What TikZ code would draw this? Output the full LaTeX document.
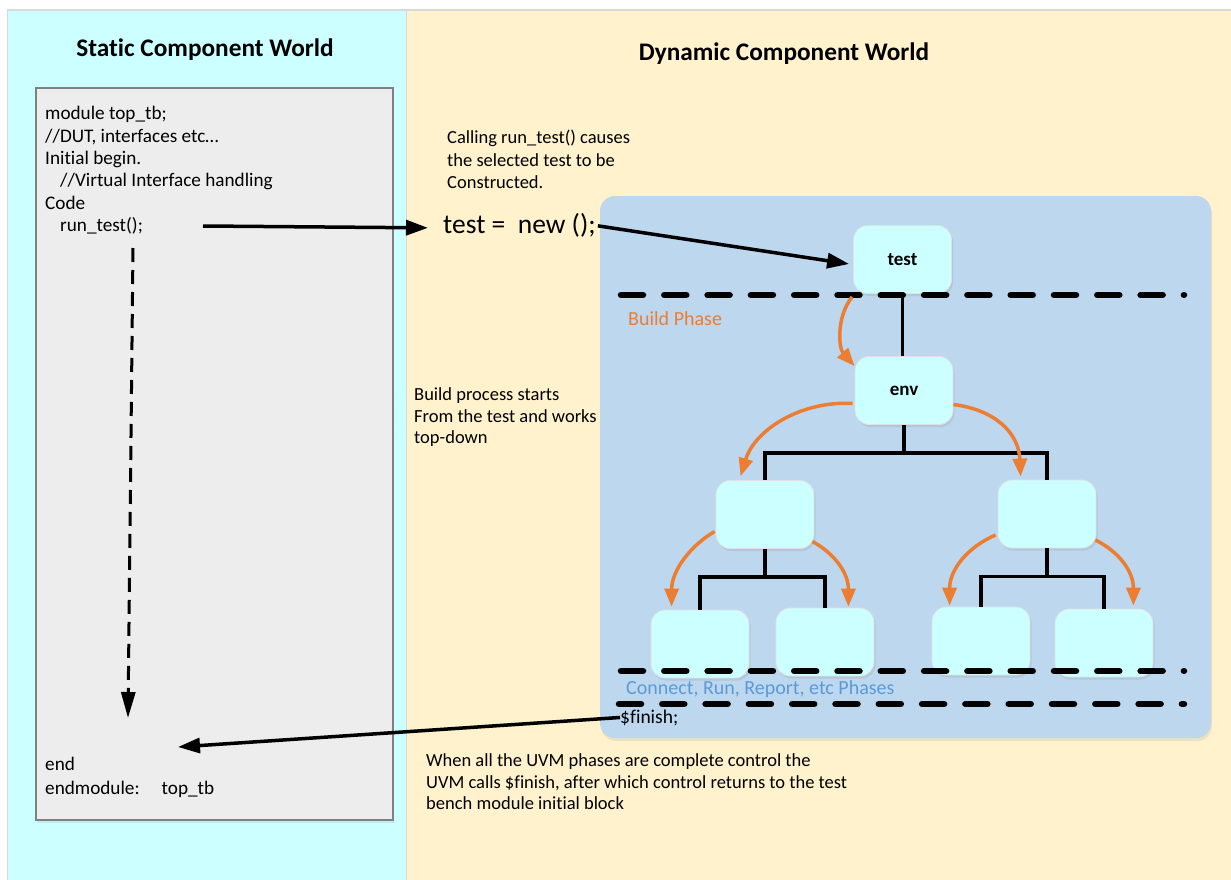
\documentclass[tikz,border=0pt]{standalone}
\usepackage{fontspec}
\setmainfont{Carlito}[Ligatures=NoCommon]
\usetikzlibrary{arrows.meta,calc,shadows}

\definecolor{staticbg}{HTML}{CCFFFF}
\definecolor{dynbg}{HTML}{FFF2CC}
\definecolor{panelline}{HTML}{D9D9D9}
\definecolor{codefill}{HTML}{EDEDED}
\definecolor{codeline}{HTML}{808080}
\definecolor{phasebox}{HTML}{BDD7EE}
\definecolor{compfill}{HTML}{CCFFFF}
\definecolor{buildorange}{HTML}{ED7D31}
\definecolor{phaseblue}{HTML}{5B9BD5}

\begin{document}
\begin{tikzpicture}[x=1pt,y=-1pt,
  title/.style={font=\bfseries\fontsize{25.3}{30}\selectfont, anchor=base, inner sep=0pt},
  body/.style={font=\fontsize{18.5}{22}\selectfont, anchor=base west, inner sep=0pt},
  code/.style={font=\fontsize{19.2}{22}\selectfont, anchor=base west, inner sep=0pt},
  comp/.style={fill=compfill, draw=black!12, line width=0.8pt, rounded corners=14pt,
    minimum width=98pt, minimum height=68pt, inner sep=0pt,
    font=\bfseries\fontsize{19}{22}\selectfont,
    drop shadow={shadow xshift=1.5pt, shadow yshift=-2.5pt, opacity=0.18}},
  callarrow/.style={line width=3.5pt, -{Triangle[length=22pt,width=15pt]}},
  flowarrow/.style={line width=3pt, dash pattern=on 14pt off 8pt, -{Triangle[length=26pt,width=14pt]}},
  tree/.style={line width=3.5pt},
  build/.style={draw=buildorange, line width=3.5pt, -{Triangle[length=18pt,width=14pt]}},
  phaseline/.style={line width=6.5pt, line cap=round, dash pattern=on 22pt off 21.3pt},
  phaselabel/.style={font=\fontsize{20}{24}\selectfont, anchor=base west, inner sep=0pt}]

\useasboundingbox (0,0) rectangle (1231,880);
\fill[white] (0,0) rectangle (1231,880);

% the two worlds
\fill[staticbg] (7,10) rectangle (406,880);
\fill[dynbg] (406,10) rectangle (1231,880);
\draw[panelline, line width=2pt] (7,10) -- (1231,10);
\draw[panelline, line width=1pt] (406,10) -- (406,880);
\draw[panelline, line width=1pt] (7,10) -- (7,880);

\node[title] (stitle) at (205,57) {Static Component World};
\node[title] (dtitle) at (784,61) {Dynamic Component World};

% top-level module code
\node[fill=codefill, draw=codeline, line width=2pt, minimum width=357pt, minimum height=732pt,
  inner sep=0pt, drop shadow={shadow xshift=1pt, shadow yshift=-3pt, opacity=0.15}]
  (codebox) at (214.5,454) {};
\node[code] (c1) at (45,120) {module top\_tb;};
\node[code] (c2) at (45,142.3) {//DUT, interfaces etc…};
\node[code] (c3) at (45,164.6) {Initial begin.};
\node[code] (c4) at (60,186.9) {//Virtual Interface handling};
\node[code] (c5) at (45,209.2) {Code};
\node[code] (c6) at (60,231.5) {run\_test();};
\node[code] (c7) at (45,770) {end};
\node[code] (c8) at (45,794) {endmodule:\hspace{22pt}top\_tb};

% explanatory notes
\node[body] (call1) at (447,143) {Calling run\_test() causes};
\node[body] (call2) at (447,166) {the selected test to be};
\node[body] (call3) at (447,188) {Constructed.};
\node[font=\fontsize{27.5}{32}\selectfont, anchor=base west, inner sep=0pt] (newstmt) at (443,233) {test =\ \ new ();};

\node[body] (bp1) at (414,400) {Build process starts};
\node[body] (bp2) at (414,422) {From the test and works};
\node[body] (bp3) at (414,443) {top-down};

\node[body] (fin1) at (426,766) {When all the UVM phases are complete control the};
\node[body] (fin2) at (426,788) {UVM calls \$finish, after which control returns to the test};
\node[body] (fin3) at (426,809) {bench module initial block};

% component hierarchy
\node[fill=phasebox, rounded corners=15pt, minimum width=611pt, minimum height=542pt, inner sep=0pt,
  drop shadow={shadow xshift=1pt, shadow yshift=-3pt, opacity=0.15}] (dynbox) at (905.5,467) {};

\node[comp] (test) at (902.5,259.5) {test};
\node[comp] (env) at (904,390.5) {env};
\node[comp] (m1) at (765,514.5) {};
\node[comp] (m2) at (1047,514) {};
\node[comp] (l1) at (700,644) {};
\node[comp] (l2) at (825,642) {};
\node[comp] (l3) at (981,641) {};
\node[comp] (l4) at (1104,643) {};

% phase boundaries
\draw[phaseline] (621,295) -- (1184,295);
\draw[phaseline] (621,671) -- (1184,671);
\draw[phaseline] (619,704) -- (1184,704);

\node[phaselabel, text=buildorange] (buildlbl) at (628,325) {Build Phase};
\node[phaselabel, text=phaseblue] (connlbl) at (626,694) {Connect, Run, Report, etc Phases};
\node[font=\fontsize{19.5}{23}\selectfont, anchor=base west, inner sep=0pt] (finish) at (620,723) {\$finish;};

% tree connections
\draw[tree] (test.south) -- (test.south |- env.north);
\draw[tree] (env.south) -- ++(0,28) -| (m1.north);
\draw[tree] (env.south) -- ++(0,28) -| (m2.north);
\draw[tree] (m1.south) -- ++(0,28) -| (l1.north);
\draw[tree] (m1.south) -- ++(0,28) -| (l2.north);
\draw[tree] (m2.south) -- ++(0,28) -| (l3.north);
\draw[tree] (m2.south) -- ++(0,28) -| (l4.north);

% build order
\draw[build] ($(test.south west)+(-1,3)$) .. controls +(-16,20) and +(-16,-18) .. ($(env.north west)+(0,10)$);
\draw[build] ($(env.west)+(-2,13)$) .. controls +(-52,-3) and +(14,-46) .. ($(m1.north west)+(25,-4)$);
\draw[build] ($(env.east)+(0,14)$) .. controls +(40,5) and +(-2,-45) .. ($(m2.north west)+(23,-3)$);
\draw[build] ($(m1.west)+(-1,17)$) .. controls +(-24,14) and +(0,-36) .. ($(l1.north west)+(21,-3)$);
\draw[build] ($(m1.east)+(-2,27)$) .. controls +(22,12) and +(0,-34) .. ($(l2.north east)+(-26,-1)$);
\draw[build] ($(m2.west)+(-2,21)$) .. controls +(-28,12) and +(0,-36) .. ($(l3.north west)+(18,-1)$);
\draw[build] ($(m2.east)+(-1,26)$) .. controls +(24,12) and +(0,-34) .. ($(l4.north east)+(-20,-3)$);

% control flow
\coordinate (callpt) at (203,226);
\coordinate (flowtop) at (133,248);
\coordinate (flowend) at (128,718);
\coordinate (returnpt) at (178,747);
\draw[callarrow] (callpt) -- ($(newstmt.west)+(-15,3)$);
\draw[callarrow] ($(newstmt.east)+(2,1)$) -- ($(test.west)+(-4,4.5)$);
\draw[flowarrow] (flowtop) -- (flowend);
\draw[callarrow] (finish.west) -- (returnpt);

\end{tikzpicture}
\end{document}
